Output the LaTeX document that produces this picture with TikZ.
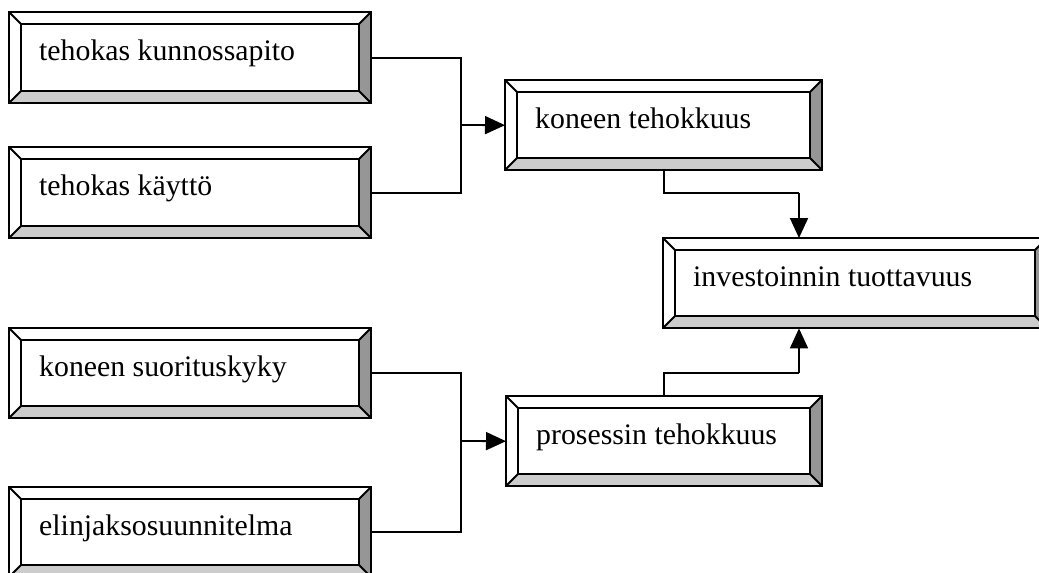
\documentclass[tikz,border=0pt]{standalone}
\usepackage{fontspec}
\setmainfont{Liberation Serif}
\usetikzlibrary{arrows.meta,calc}
\definecolor{bevdark}{HTML}{969696}
\definecolor{bevlight}{HTML}{CCCCCC}
\tikzset{
  boxnode/.style={draw=none, inner sep=0pt, anchor=north west},
  bevline/.style={line width=2pt, line join=miter},
  conn/.style={line width=1.8pt},
  arr/.style={conn, -{Triangle[length=20pt,width=18pt]}},
  lbl/.style={anchor=base west, inner sep=0pt, font=\fontsize{29.8}{34}\selectfont}
}
\newcommand{\bevbox}[6]{%
  \node[boxnode, minimum width={(#4-#2)*1pt}, minimum height={(#5-#3)*1pt}] (#1) at (#2,#3) {};
  \fill[white] (#2,#3) -- (#4,#3) -- (#4-12,#3+12) -- (#2+12,#3+12) -- cycle;
  \fill[white] (#2,#3) -- (#2+12,#3+12) -- (#2+12,#5-12) -- (#2,#5) -- cycle;
  \fill[bevdark] (#4,#3) -- (#4,#5) -- (#4-12,#5-12) -- (#4-12,#3+12) -- cycle;
  \fill[bevlight] (#2,#5) -- (#4,#5) -- (#4-12,#5-12) -- (#2+12,#5-12) -- cycle;
  \draw[bevline] (#2,#3) rectangle (#4,#5);
  \draw[bevline] (#2+12,#3+12) rectangle (#4-12,#5-12);
  \draw[bevline] (#2,#3) -- (#2+12,#3+12) (#4,#3) -- (#4-12,#3+12)
                 (#2,#5) -- (#2+12,#5-12) (#4,#5) -- (#4-12,#5-12);
  \node[lbl] (#1-t) at (#2+30,#3+48) {#6};
}
\begin{document}
\begin{tikzpicture}[x=1pt,y=-1pt]
\useasboundingbox (0,0) rectangle (1039,573);
\clip (0,0) rectangle (1039,573);
\fill[white] (0,0) rectangle (1039,573);

\bevbox{A}{9}{12}{371}{103}{tehokas kunnossapito}
\bevbox{B}{9}{147}{371}{238}{tehokas käyttö}
\bevbox{C}{505}{80}{822}{170}{koneen tehokkuus}
\bevbox{D}{663}{238}{1047}{328}{investoinnin tuottavuus}
\bevbox{E}{9}{328}{371}{418}{koneen suorituskyky}
\bevbox{F}{506}{396}{822}{486}{prosessin tehokkuus}
\bevbox{G}{9}{487}{371}{577}{elinjaksosuunnitelma}

\coordinate (j1) at (461,125);
\coordinate (j2) at (461,441);
\coordinate (k1) at (799,193);
\coordinate (k2) at (799,373);

\draw[conn] (A.east) -| (j1);
\draw[conn] (B.east) -| (j1);
\draw[arr] (j1) -- (C.west);

\draw[conn] (E.east) -| (j2);
\draw[conn] (G.east) -| (j2);
\draw[arr] (j2) -- (F.west);

\draw[conn] (C.south) |- (k1);
\draw[arr] (k1) -- (k1 |- D.north);

\draw[conn] (F.north) |- (k2);
\draw[arr] (k2) -- (k2 |- D.south);
\end{tikzpicture}
\end{document}
